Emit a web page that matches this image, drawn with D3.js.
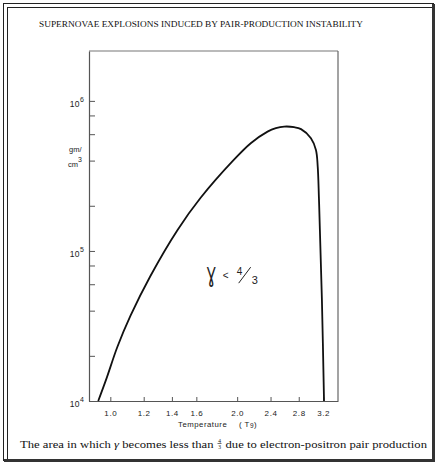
<!DOCTYPE html>
<meta charset="utf-8">
<style>
  body { margin: 0; background: #fff; }
  .serif { font-family: 'Liberation Serif', 'Times New Roman', serif; fill: #111; }
  .sans { font-family: 'Liberation Sans', Arial, sans-serif; fill: #222; }
</style>
<script src="https://d3js.org/d3.v7.min.js"></script>
<div id="my_dataviz"></div>
<script>
// boundary of the gamma < 4/3 region, temperature (T9) vs density (gm/cm3)
var tempT   = [0.936, 0.98, 1.039, 1.116, 1.245, 1.444, 1.638, 1.963, 2.154, 2.361, 2.471, 2.586, 2.731, 2.835, 2.993, 3.076, 3.106, 3.126, 3.143, 3.178, 3.215];
var density = [1e4, 1.42e4, 2.29e4, 3.69e4, 6.81e4, 1.38e5, 2.26e5, 4.04e5, 5.22e5, 6.24e5, 6.58e5, 6.74e5, 6.68e5, 6.48e5, 5.64e5, 4.71e5, 3.65e5, 2.29e5, 1.38e5, 4.71e4, 1e4];

var xTicks = [1.0, 1.2, 1.4, 1.6, 2.0, 2.4, 2.8, 3.2];
var yMajor = [1e4, 1e5, 1e6];
var yMinor = [2e4, 4e4, 6e4, 8e4, 2e5, 4e5, 6e5, 8e5];

var W = 436, H = 464;
var box = {left: 89, top: 51, right: 338, bottom: 401};

var svg = d3.select("#my_dataviz").append("svg")
    .attr("width", W).attr("height", H);

// page frame (double rule with heavier shadow side)
svg.append("rect").attr("x", 3.5).attr("y", 3.5).attr("width", 430).attr("height", 457)
    .attr("fill", "none").attr("stroke", "#222").attr("stroke-width", 1);
svg.append("rect").attr("x", 7.5).attr("y", 7.5).attr("width", 426).attr("height", 453)
    .attr("fill", "none").attr("stroke", "#222").attr("stroke-width", 1);
svg.append("line").attr("x1", 433.5).attr("x2", 433.5).attr("y1", 4).attr("y2", 462)
    .attr("stroke", "#333").attr("stroke-width", 3);
svg.append("line").attr("x1", 4).attr("x2", 435).attr("y1", 460.5).attr("y2", 460.5)
    .attr("stroke", "#333").attr("stroke-width", 3);

// title
svg.append("text").attr("class", "serif")
    .attr("x", 39).attr("y", 26.5)
    .style("font-size", "8.4px")
    .attr("textLength", 324).attr("lengthAdjust", "spacingAndGlyphs")
    .text("SUPERNOVAE EXPLOSIONS INDUCED BY PAIR-PRODUCTION INSTABILITY");

// scales
var x = d3.scaleLog().domain([0.89, 3.47]).range([box.left, box.right]);
var y = d3.scaleLog().domain([1e4, 2.15e6]).range([box.bottom, box.top]);

// plot box
svg.append("line").attr("x1", box.left).attr("x2", box.right).attr("y1", box.top).attr("y2", box.top)
    .attr("stroke", "#777").attr("stroke-width", 1.2);
svg.append("line").attr("x1", box.right).attr("x2", box.right).attr("y1", box.top).attr("y2", box.bottom)
    .attr("stroke", "#666").attr("stroke-width", 1.2);

// axes (ticks point inward)
var xAxis = svg.append("g")
    .attr("transform", "translate(0," + box.bottom + ")")
    .call(d3.axisBottom(x).tickValues(xTicks).tickSizeInner(-4).tickSizeOuter(0)
        .tickPadding(9).tickFormat(d3.format(".1f")));
xAxis.select(".domain").attr("stroke", "#555").attr("stroke-width", 1.2);
xAxis.selectAll(".tick line").attr("stroke", "#555");
xAxis.selectAll(".tick text").attr("class", "sans").attr("fill", "#222")
    .style("font-size", "8px").style("letter-spacing", "0.6px").attr("dy", "0.7em");

var yAxis = svg.append("g")
    .attr("transform", "translate(" + box.left + ",0)")
    .call(d3.axisLeft(y).tickValues(yMajor.concat(yMinor)).tickSizeInner(-6).tickSizeOuter(0)
        .tickFormat(""));
yAxis.select(".domain").attr("stroke", "#555").attr("stroke-width", 1.2);
yAxis.selectAll(".tick line").attr("stroke", "#555");

// y labels: 10^n
var yl = svg.append("g").selectAll("text").data(yMajor).enter().append("text")
    .attr("class", "sans")
    .attr("x", 84).attr("y", function(d) { return y(d) + 6; })
    .attr("text-anchor", "end")
    .style("font-size", "8.5px");
yl.append("tspan").text("10").style("letter-spacing", "0.5px");
yl.append("tspan").attr("dy", -5).style("font-size", "7px")
    .text(function(d) { return Math.round(Math.log10(d)); });

// units
svg.append("text").attr("class", "sans").attr("x", 69).attr("y", 152)
    .attr("fill", "#222").style("font-size", "7.5px").text("gm/");
var cm = svg.append("text").attr("class", "sans").attr("x", 68).attr("y", 167)
    .attr("fill", "#222").style("font-size", "7.5px");
cm.append("tspan").text("cm");
cm.append("tspan").attr("dy", -5).style("font-size", "7px").text("3");

// x label
var xl = svg.append("text").attr("class", "sans")
    .attr("x", 178).attr("y", 426.5)
    .style("font-size", "7.8px").style("letter-spacing", "0.5px");
xl.append("tspan").text("Temperature");
xl.append("tspan").attr("x", 239).text("( T");
xl.append("tspan").attr("dy", 1.5).style("font-size", "6.5px").text("9");
xl.append("tspan").attr("dy", -1.5).text(")");

// curve
var pts = tempT.map(function(t, i) { return [t, density[i]]; });
svg.append("path")
    .datum(pts)
    .attr("fill", "none")
    .attr("stroke", "#111")
    .attr("stroke-width", 1.8)
    .attr("stroke-linejoin", "round")
    .attr("d", d3.line()
        .x(function(d) { return x(d[0]); })
        .y(function(d) { return y(d[1]); })
        .curve(d3.curveCatmullRom.alpha(0.5)));

// annotation  gamma < 4/3
var ax = x(1.693), ay = y(6.1e4);
var ann = svg.append("g").attr("transform", "translate(" + ax + "," + ay + ")");
ann.append("text").attr("class", "sans").attr("x", 0).attr("y", 0)
    .attr("transform", "scale(0.62,1)")
    .style("font-size", "21px").style("font-family", "'DejaVu Sans', sans-serif").text("Ɣ");
ann.append("text").attr("class", "sans").attr("x", 16).attr("y", -4)
    .style("font-size", "10px").text("<");
ann.append("text").attr("class", "sans").attr("x", 30).attr("y", -8)
    .style("font-size", "10px").text("4");
ann.append("line").attr("x1", 32).attr("y1", 0).attr("x2", 44).attr("y2", -16)
    .attr("stroke", "#222").attr("stroke-width", 1);
ann.append("text").attr("class", "sans").attr("x", 45).attr("y", 1)
    .style("font-size", "11px").text("3");

// caption with stacked fraction
var cap = svg.append("g");
var fs = 11;
var p1 = cap.append("text").attr("class", "serif").attr("y", 447.5).style("font-size", fs + "px");
p1.append("tspan").text("The area in which ");
p1.append("tspan").style("font-style", "italic").text("γ");
p1.append("tspan").text(" becomes less than");
var p2 = cap.append("text").attr("class", "serif").attr("y", 447.5).style("font-size", fs + "px")
    .text("due to electron-positron pair production");
var w1 = p1.node().getComputedTextLength();
var w2 = p2.node().getComputedTextLength();
var gap = 3.5, fw = 5;
var s = (407 - 2 * gap - fw) / (w1 + w2);
var x0 = 20;
p1.attr("x", x0).attr("textLength", w1 * s).attr("lengthAdjust", "spacingAndGlyphs");
var fx = x0 + w1 * s + gap;
var fr = cap.append("g").attr("transform", "translate(" + (fx + fw / 2) + ",443.5)");
fr.append("text").attr("class", "serif").attr("text-anchor", "middle").attr("y", -1)
    .style("font-size", "5.5px").text("4");
fr.append("line").attr("x1", -2).attr("x2", 2).attr("y1", 0).attr("y2", 0)
    .attr("stroke", "#111").attr("stroke-width", 0.6);
fr.append("text").attr("class", "serif").attr("text-anchor", "middle").attr("y", 5)
    .style("font-size", "5.5px").text("3");
p2.attr("x", fx + fw + gap).attr("textLength", w2 * s).attr("lengthAdjust", "spacingAndGlyphs");
</script>
